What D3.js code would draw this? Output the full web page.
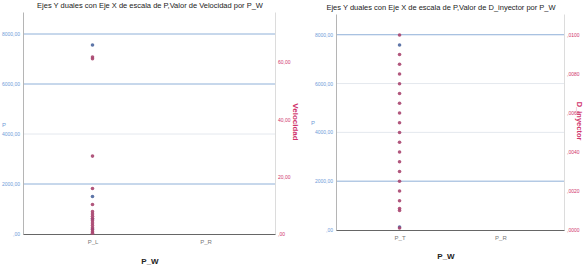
<!DOCTYPE html>
<html>
<head>
<meta charset="utf-8">
<script src="https://cdn.jsdelivr.net/npm/d3@7"></script>
<style>
  body { margin: 0; background: #fff; }
  svg { display: block; }
  text { font-family: "Liberation Sans Narrow", "Liberation Sans", Arial, sans-serif; }
</style>
</head>
<body>
<div id="chart"></div>
<script>
// chart 1: Velocidad
const cats1 = ['P_L', 'P_R'];
const p1 = [7560, 1500, 600, 200];               // left axis (P)
const vel = [61.2, 61.8, 27.2, 15.9, 10.3, 7.8, 7.0, 6.2, 5.4, 4.6, 3.8, 3.0, 2.2, 1.5, 0.8, 0.3]; // right axis
const ticksP1 = [0, 2000, 4000, 6000, 8000];
const ticksVel = [0, 20, 40, 60];

// chart 2: D_inyector
const cats2 = ['P_T', 'P_R'];
const p2 = [7580, 120];
const dIny = [0.0100, 0.0090, 0.0085, 0.0080, 0.0075, 0.0070, 0.0065, 0.0060, 0.0055, 0.0050,
  0.0045, 0.0040, 0.0035, 0.0030, 0.0025, 0.0020, 0.0015, 0.0011, 0.0010, 0.0001];
const ticksP2 = [0, 2000, 4000, 6000, 8000];
const ticksD = [0, 0.002, 0.004, 0.006, 0.008, 0.010];

const blue = '#6f9bd8', red = '#d0336b';
const svg = d3.select('#chart').append('svg').attr('width', 585).attr('height', 268);

function draw(o) {
  const g = svg.append('g');
  const x = d3.scalePoint().domain(o.cats).range([o.x0, o.x1]).padding(o.pad);
  const yL = d3.scaleLinear().domain(o.domL).range([o.yB, o.yT]);
  const yR = d3.scaleLinear().domain(o.domR).range([o.yB, o.yT]);

  // grid lines
  g.selectAll('.grid').data(o.ticksL.slice(1)).enter().append('line')
    .attr('x1', o.x0).attr('x2', o.x1)
    .attr('y1', d => yL(d)).attr('y2', d => yL(d))
    .attr('stroke', (d, i) => o.strong[i] ? '#8fb0d8' : '#e4e8ee')
    .attr('stroke-width', 1);

  // left axis
  const aL = g.append('g').attr('transform', `translate(${o.x0},0)`)
    .call(d3.axisLeft(yL).tickValues(o.ticksL).tickSize(0).tickPadding(3).tickFormat(o.fmtL));
  aL.select('.domain').attr('stroke', '#b5b5b5');
  aL.selectAll('text').attr('fill', blue).attr('font-size', 5);

  // right axis
  const aR = g.append('g').attr('transform', `translate(${o.x1},0)`)
    .call(d3.axisRight(yR).tickValues(o.ticksR).tickSize(0).tickPadding(3).tickFormat(o.fmtR));
  aR.select('.domain').attr('stroke', '#dcdcdc');
  aR.selectAll('text').attr('fill', red).attr('font-size', 5);

  // bottom axis
  const aB = g.append('g').attr('transform', `translate(0,${o.yB})`)
    .call(d3.axisBottom(x).tickSize(0).tickPadding(6));
  aB.select('.domain').attr('stroke', '#666').attr('stroke-width', 1.2);
  aB.selectAll('text').attr('fill', '#777').attr('font-size', 6);

  // points
  g.selectAll('.pp').data(o.pv).enter().append('circle')
    .attr('cx', x(o.cats[0])).attr('cy', d => yL(d)).attr('r', 1.8)
    .attr('fill', '#5e76a8');
  g.selectAll('.pr').data(o.rv).enter().append('circle')
    .attr('cx', x(o.cats[0])).attr('cy', d => yR(d)).attr('r', 1.8)
    .attr('fill', '#a8456f').attr('opacity', 0.9);

  // titles
  svg.append('text').attr('x', o.tx).attr('y', o.ty).attr('text-anchor', 'middle')
    .attr('font-size', 7.5).attr('fill', '#222').text(o.title);
  svg.append('text').attr('x', o.xtX).attr('y', o.xtY).attr('text-anchor', 'middle')
    .attr('font-size', 8).attr('font-weight', 'bold').attr('fill', '#222').text('P_W');
  svg.append('text').attr('x', o.plX).attr('y', o.plY).attr('text-anchor', 'middle')
    .attr('font-size', 6).attr('fill', blue).text('P');
  svg.append('text').attr('transform', `translate(${o.rtX},${o.rtY}) rotate(90)`)
    .attr('text-anchor', 'middle').attr('font-size', o.rtSize).attr('font-weight', 'bold')
    .attr('fill', red).text(o.rTitle);
}

const fmtComma = d => d === 0 ? ',00' : d3.format('.2f')(d).replace('.', ',');
const fmtDec = d => d3.format('.4f')(d).replace('0.', ',');

draw({
  cats: cats1, x0: 23, x1: 275, pad: 0.615, yB: 234, yT: 12,
  domL: [0, 8880], domR: [0, 77.5], ticksL: ticksP1, ticksR: ticksVel,
  strong: [true, false, true, true], fmtL: fmtComma, fmtR: fmtComma,
  pv: p1, rv: vel,
  title: 'Ejes Y duales con Eje X de escala de P,Valor de Velocidad  por P_W', tx: 150, ty: 8,
  xtX: 150, xtY: 264, plX: 4, plY: 127, rtX: 293, rtY: 122, rTitle: 'Velocidad', rtSize: 8
});

draw({
  cats: cats2, x0: 336, x1: 564, pad: 0.63, yB: 230, yT: 14,
  domL: [0, 8850], domR: [0, 0.01108], ticksL: ticksP2, ticksR: ticksD,
  strong: [true, false, false, true], fmtL: fmtComma, fmtR: fmtDec,
  pv: p2, rv: dIny,
  title: 'Ejes Y duales con Eje X de escala de P,Valor de D_inyector  por P_W', tx: 441, ty: 10,
  xtX: 446, xtY: 259, plX: 313, plY: 125, rtX: 577, rtY: 121, rTitle: 'D_inyector', rtSize: 7.5
});
</script>
</body>
</html>
